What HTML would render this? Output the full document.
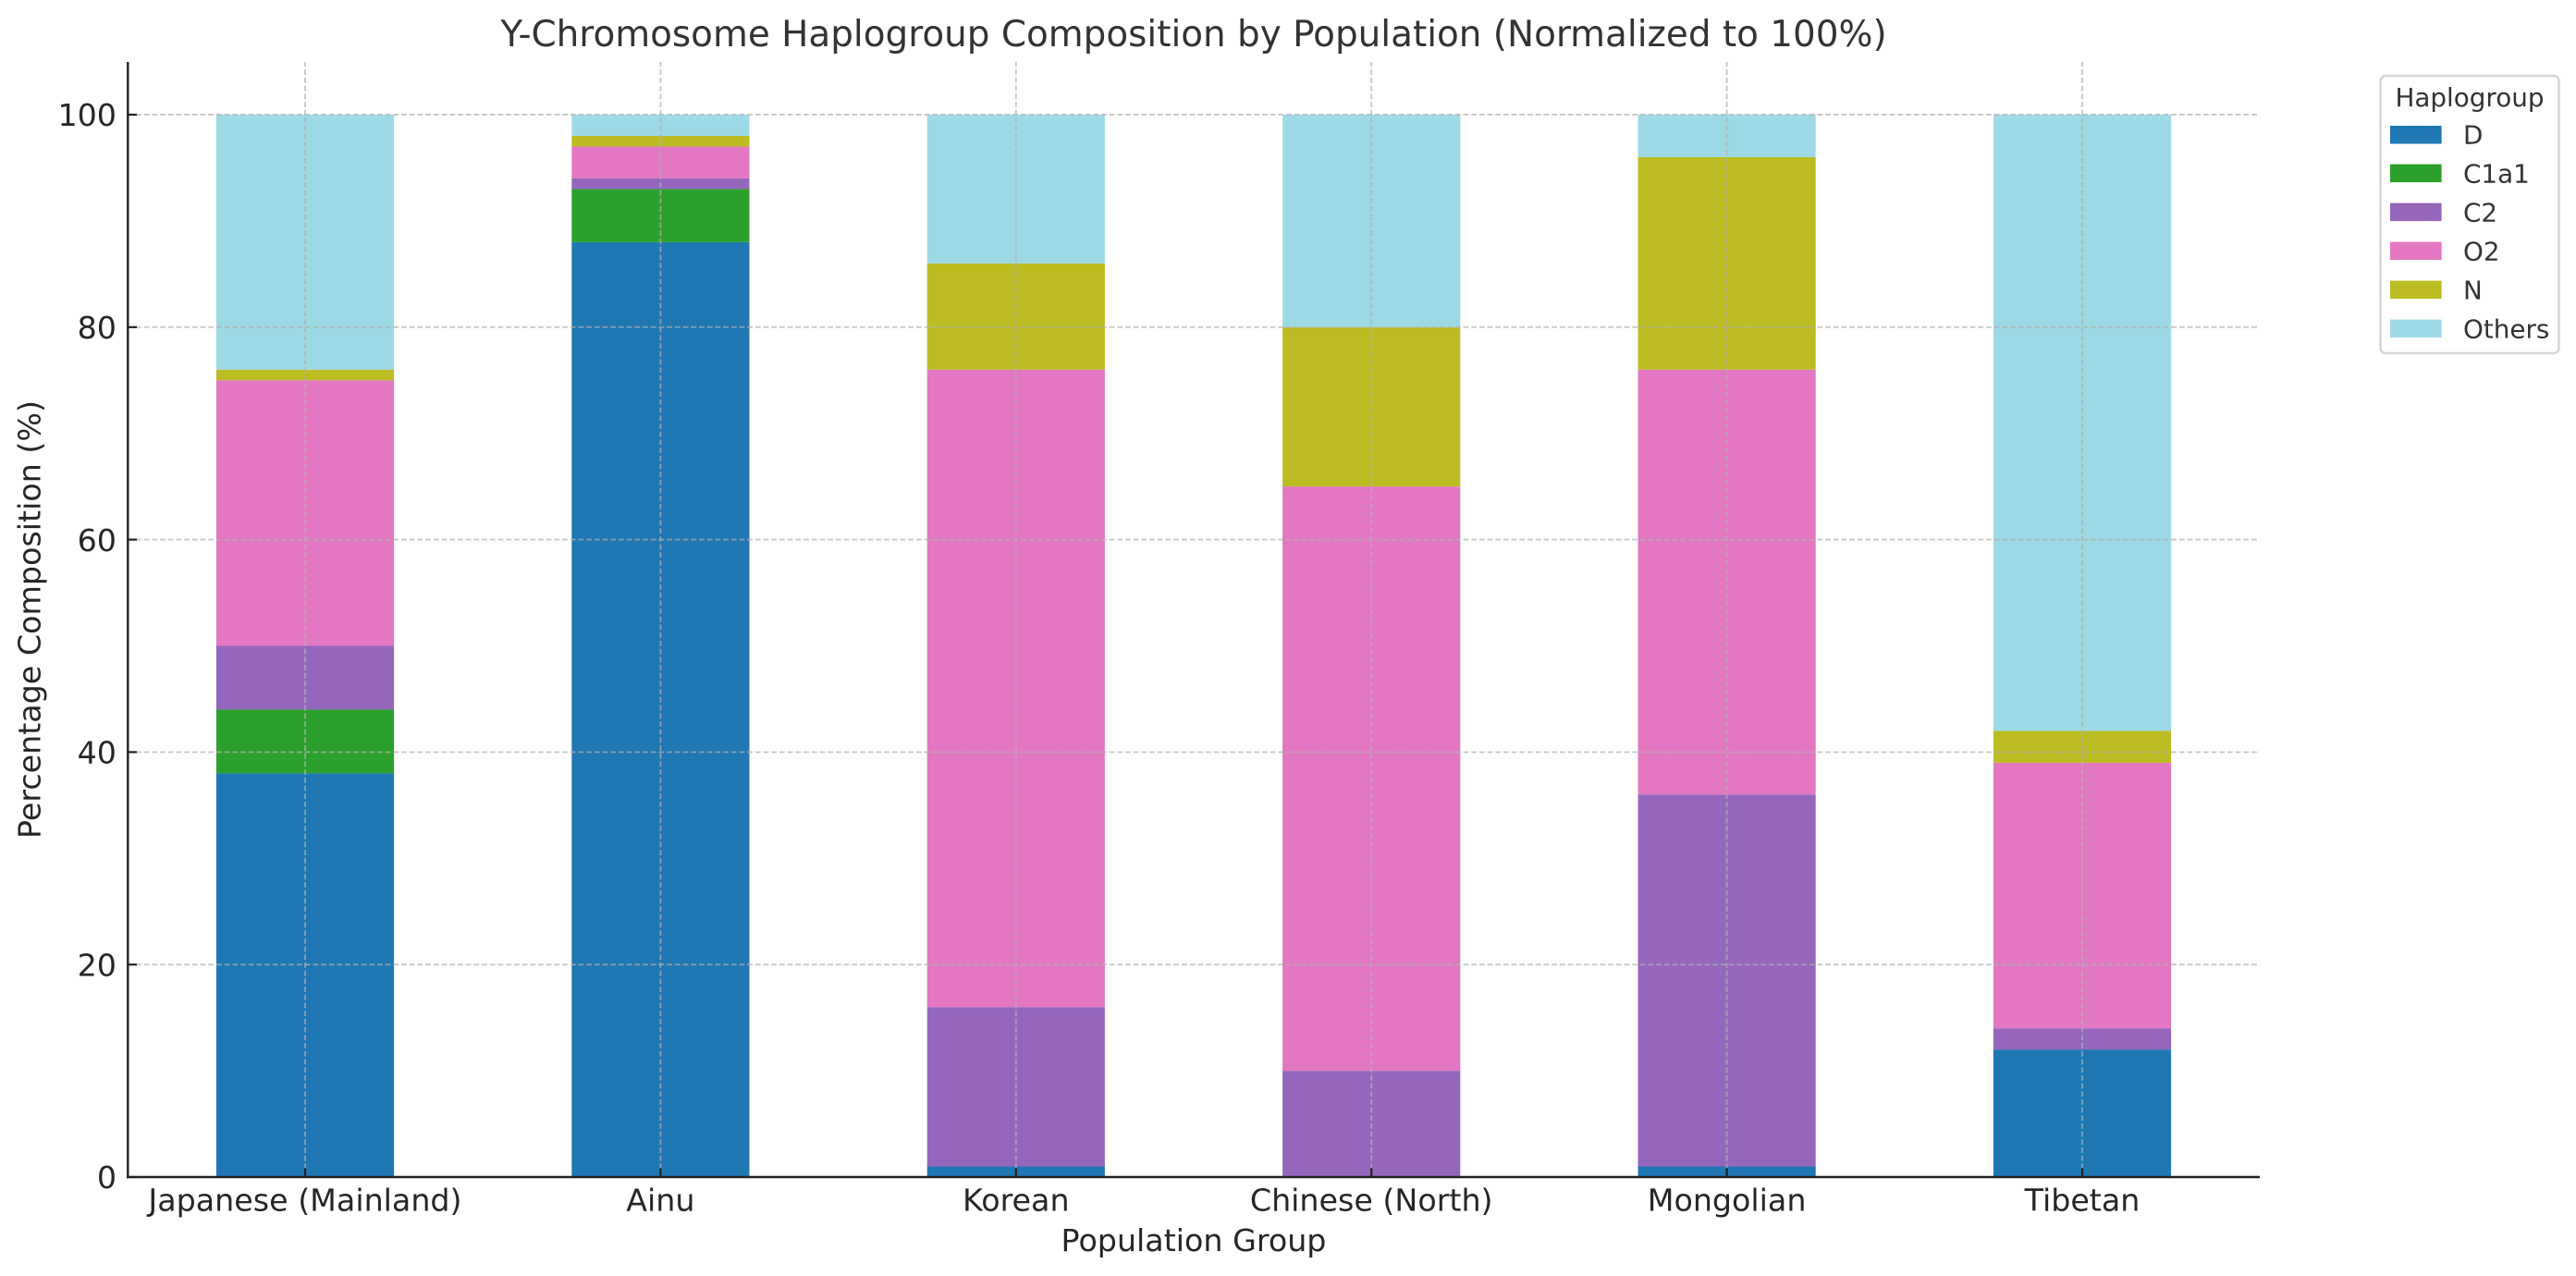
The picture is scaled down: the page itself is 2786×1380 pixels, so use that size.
<!DOCTYPE html>
<html>
<head>
<meta charset="utf-8">
<style>
  html, body { margin: 0; padding: 0; background: #ffffff; }
  svg { display: block; }
  text { font-family: "DejaVu Sans", "Liberation Sans", sans-serif; }
</style>
</head>
<body>
<svg width="2786" height="1380" viewBox="0 0 2786 1380" xmlns="http://www.w3.org/2000/svg">
  <rect x="0" y="0" width="2786" height="1380" fill="#ffffff"/>

  <!-- Title -->
  <text x="1291" y="50" font-size="38.9" fill="#333333" text-anchor="middle">Y-Chromosome Haplogroup Composition by Population (Normalized to 100%)</text>

  <!-- Bars (data units in y) -->
  <g transform="translate(0,1273) scale(1,-11.49)">
    <!-- Japanese (Mainland) -->
    <rect x="233.9" y="0" width="192.2" height="38" fill="#1f77b4"/>
    <rect x="233.9" y="38" width="192.2" height="6" fill="#2ca02c"/>
    <rect x="233.9" y="44" width="192.2" height="6" fill="#9467bd"/>
    <rect x="233.9" y="50" width="192.2" height="25" fill="#e377c2"/>
    <rect x="233.9" y="75" width="192.2" height="1" fill="#bcbd22"/>
    <rect x="233.9" y="76" width="192.2" height="24" fill="#9edae5"/>
    <!-- Ainu -->
    <rect x="618.3" y="0" width="192.2" height="88" fill="#1f77b4"/>
    <rect x="618.3" y="88" width="192.2" height="5" fill="#2ca02c"/>
    <rect x="618.3" y="93" width="192.2" height="1" fill="#9467bd"/>
    <rect x="618.3" y="94" width="192.2" height="3" fill="#e377c2"/>
    <rect x="618.3" y="97" width="192.2" height="1" fill="#bcbd22"/>
    <rect x="618.3" y="98" width="192.2" height="2" fill="#9edae5"/>
    <!-- Korean -->
    <rect x="1002.7" y="0" width="192.2" height="1" fill="#1f77b4"/>
    <rect x="1002.7" y="1" width="192.2" height="15" fill="#9467bd"/>
    <rect x="1002.7" y="16" width="192.2" height="60" fill="#e377c2"/>
    <rect x="1002.7" y="76" width="192.2" height="10" fill="#bcbd22"/>
    <rect x="1002.7" y="86" width="192.2" height="14" fill="#9edae5"/>
    <!-- Chinese (North) -->
    <rect x="1387.1" y="0" width="192.2" height="10" fill="#9467bd"/>
    <rect x="1387.1" y="10" width="192.2" height="55" fill="#e377c2"/>
    <rect x="1387.1" y="65" width="192.2" height="15" fill="#bcbd22"/>
    <rect x="1387.1" y="80" width="192.2" height="20" fill="#9edae5"/>
    <!-- Mongolian -->
    <rect x="1771.5" y="0" width="192.2" height="1" fill="#1f77b4"/>
    <rect x="1771.5" y="1" width="192.2" height="35" fill="#9467bd"/>
    <rect x="1771.5" y="36" width="192.2" height="40" fill="#e377c2"/>
    <rect x="1771.5" y="76" width="192.2" height="20" fill="#bcbd22"/>
    <rect x="1771.5" y="96" width="192.2" height="4" fill="#9edae5"/>
    <!-- Tibetan -->
    <rect x="2155.9" y="0" width="192.2" height="12" fill="#1f77b4"/>
    <rect x="2155.9" y="12" width="192.2" height="2" fill="#9467bd"/>
    <rect x="2155.9" y="14" width="192.2" height="25" fill="#e377c2"/>
    <rect x="2155.9" y="39" width="192.2" height="3" fill="#bcbd22"/>
    <rect x="2155.9" y="42" width="192.2" height="58" fill="#9edae5"/>
  </g>

  <!-- Grid -->
  <g stroke="#b0b0b0" stroke-opacity="0.7" stroke-width="1.9" stroke-dasharray="5.8,2.9" fill="none">
    <line x1="138.3" y1="1043.2" x2="2444" y2="1043.2"/>
    <line x1="138.3" y1="813.4" x2="2444" y2="813.4"/>
    <line x1="138.3" y1="583.6" x2="2444" y2="583.6"/>
    <line x1="138.3" y1="353.8" x2="2444" y2="353.8"/>
    <line x1="138.3" y1="124" x2="2444" y2="124"/>
    <line x1="330" y1="1273" x2="330" y2="67"/>
    <line x1="714.4" y1="1273" x2="714.4" y2="67"/>
    <line x1="1098.8" y1="1273" x2="1098.8" y2="67"/>
    <line x1="1483.2" y1="1273" x2="1483.2" y2="67"/>
    <line x1="1867.6" y1="1273" x2="1867.6" y2="67"/>
    <line x1="2252" y1="1273" x2="2252" y2="67"/>
  </g>

  <!-- Spines -->
  <g stroke="#222222" stroke-width="2.4" fill="none">
    <line x1="138.3" y1="67" x2="138.3" y2="1274.2"/>
    <line x1="137.1" y1="1273" x2="2444" y2="1273"/>
  </g>

  <!-- Ticks (inward) -->
  <g stroke="#222222" stroke-width="2.2">
    <line x1="138.3" y1="1273" x2="148" y2="1273"/>
    <line x1="138.3" y1="1043.2" x2="148" y2="1043.2"/>
    <line x1="138.3" y1="813.4" x2="148" y2="813.4"/>
    <line x1="138.3" y1="583.6" x2="148" y2="583.6"/>
    <line x1="138.3" y1="353.8" x2="148" y2="353.8"/>
    <line x1="138.3" y1="124" x2="148" y2="124"/>
    <line x1="330" y1="1273" x2="330" y2="1263.3"/>
    <line x1="714.4" y1="1273" x2="714.4" y2="1263.3"/>
    <line x1="1098.8" y1="1273" x2="1098.8" y2="1263.3"/>
    <line x1="1483.2" y1="1273" x2="1483.2" y2="1263.3"/>
    <line x1="1867.6" y1="1273" x2="1867.6" y2="1263.3"/>
    <line x1="2252" y1="1273" x2="2252" y2="1263.3"/>
  </g>

  <!-- Y tick labels -->
  <g font-size="33.3" fill="#262626" text-anchor="end">
    <text x="126" y="1285.2">0</text>
    <text x="126" y="1055.4">20</text>
    <text x="126" y="825.6">40</text>
    <text x="126" y="595.8">60</text>
    <text x="126" y="366">80</text>
    <text x="126" y="136.2">100</text>
  </g>

  <!-- X tick labels -->
  <g font-size="33.3" fill="#262626" text-anchor="middle">
    <text x="330" y="1309.3">Japanese (Mainland)</text>
    <text x="714.4" y="1309.3">Ainu</text>
    <text x="1098.8" y="1309.3">Korean</text>
    <text x="1483.2" y="1309.3">Chinese (North)</text>
    <text x="1867.6" y="1309.3">Mongolian</text>
    <text x="2252" y="1309.3">Tibetan</text>
  </g>

  <!-- Axis labels -->
  <text x="1291" y="1353" font-size="33.3" fill="#262626" text-anchor="middle">Population Group</text>
  <text transform="translate(43.5,670) rotate(-90)" font-size="33.3" fill="#262626" text-anchor="middle">Percentage Composition (%)</text>

  <!-- Legend -->
  <rect x="2574.5" y="82" width="193" height="300" rx="5.5" ry="5.5" fill="#ffffff" fill-opacity="0.8" stroke="#d5d5d5" stroke-width="2.4"/>
  <text x="2671" y="115" font-size="27.8" fill="#333333" text-anchor="middle">Haplogroup</text>
  <rect x="2585" y="136" width="55.6" height="19.5" fill="#1f77b4"/>
  <rect x="2585" y="177.6" width="55.6" height="19.5" fill="#2ca02c"/>
  <rect x="2585" y="219.6" width="55.6" height="19.5" fill="#9467bd"/>
  <rect x="2585" y="261.6" width="55.6" height="19.5" fill="#e377c2"/>
  <rect x="2585" y="303.6" width="55.6" height="19.5" fill="#bcbd22"/>
  <rect x="2585" y="345.6" width="55.6" height="19.5" fill="#9edae5"/>
  <g font-size="27.8" fill="#333333">
    <text x="2664" y="155.7">D</text>
    <text x="2664" y="197.3">C1a1</text>
    <text x="2664" y="239.3">C2</text>
    <text x="2664" y="281.3">O2</text>
    <text x="2664" y="323.3">N</text>
    <text x="2664" y="365.3">Others</text>
  </g>
</svg>
</body>
</html>
